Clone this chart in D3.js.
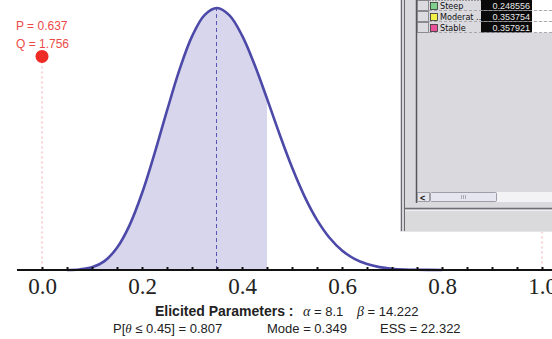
<!DOCTYPE html>
<html><head><meta charset="utf-8">
<script src="https://cdn.jsdelivr.net/npm/d3@7"></script>
<style>
html,body{margin:0;padding:0;background:#fff;overflow:hidden;}
svg{display:block;}
</style></head>
<body>
<script>
// ---- data ----
const thetaVals = [0.0,0.05,0.075,0.1,0.125,0.15,0.175,0.2,0.225,0.25,0.275,0.3,0.325,0.35,0.375,0.4,0.425,0.45,0.475,0.5,0.525,0.55,0.575,0.6,0.625,0.65,0.675,0.7,0.725,0.75,0.8,1.0];
const densityVals = [0,0.001,0.008,0.041,0.136,0.339,0.682,1.171,1.777,2.433,3.058,3.566,3.892,4.0,3.887,3.582,3.138,2.616,2.076,1.568,1.125,0.766,0.493,0.299,0.170,0.090,0.044,0.020,0.008,0.003,0,0];
const shadeLimit = 0.45;
const modeValue = 0.349;
const modeDensity = 4.0;
const majorTicks = [0.0,0.2,0.4,0.6,0.8,1.0];
const minorTicks = d3.range(0,21).map(i=>i*0.05);
const handleX = [0.0, 1.0];
const handleY = [3.26, 3.26];
const handleLabels = ["P = 0.637","Q = 1.756"];
const paramLine1 = {title:"Elicited Parameters :", alpha:"8.1", beta:"14.222"};
const paramLine2 = {prob:"0.45", probVal:"0.807", mode:"0.349", ess:"22.322"};
const rowLabels = ["Steep","Moderat ...","Stable"];
const rowValues = ["0.248556","0.353754","0.357921"];
const rowColors = ["#7fcf8f","#f4f04a","#e8509a"];

const W=552,H=339;
const svg=d3.select("body").append("svg").attr("width",W).attr("height",H);
const x=d3.scaleLinear().domain([0,1]).range([42,542]);
const y=d3.scaleLinear().domain([0,4.0]).range([270,8]);
const pts=thetaVals.map((t,i)=>({t,d:densityVals[i]}));

// shaded area up to 0.45
const shadePts=pts.filter(p=>p.t<=shadeLimit);
svg.append("path").datum(shadePts)
  .attr("d",d3.area().x(p=>x(p.t)).y0(y(0)).y1(p=>y(p.d)).curve(d3.curveCatmullRom.alpha(0.5)))
  .attr("fill","#d7d6ec");

// guide dashed lines for handles
handleX.forEach((hx,i)=>{
  svg.append("line").attr("x1",x(hx)).attr("x2",x(hx)).attr("y1",y(handleY[i])).attr("y2",y(0))
    .attr("stroke","#f2a6b0").attr("stroke-width",1).attr("stroke-dasharray","2,3");
});

// mode line
svg.append("line").attr("x1",x(modeValue)).attr("x2",x(modeValue)).attr("y1",y(0)).attr("y2",y(modeDensity))
  .attr("stroke","#5a57b4").attr("stroke-width",1).attr("stroke-dasharray","4,3");

// density curve
svg.append("path").datum(pts.filter(p=>p.t>=0.05&&p.t<=0.8))
  .attr("d",d3.line().x(p=>x(p.t)).y(p=>y(p.d)).curve(d3.curveCatmullRom.alpha(0.5)))
  .attr("fill","none").attr("stroke","#4c49a8").attr("stroke-width",2.6);

// axis
svg.append("line").attr("x1",17).attr("x2",W).attr("y1",y(0)).attr("y2",y(0))
  .attr("stroke","#111").attr("stroke-width",2);
const gTop=svg.append("g").attr("transform",`translate(0,${y(0)})`)
  .call(d3.axisTop(x).tickValues(minorTicks).tickSize(3).tickFormat(""));
gTop.select(".domain").remove();
gTop.selectAll(".tick line").attr("stroke","#111").attr("stroke-width",2);
const gBot=svg.append("g").attr("transform",`translate(0,${y(0)})`)
  .call(d3.axisBottom(x).tickValues(majorTicks).tickSize(0).tickPadding(8).tickFormat(d3.format(".1f")));
gBot.select(".domain").remove();
gBot.selectAll(".tick text").attr("font-family","'Liberation Serif','Times New Roman',serif")
  .attr("font-size",23).attr("fill","#222");

// handle point and labels
svg.append("circle").attr("cx",x(handleX[0])).attr("cy",y(handleY[0])).attr("r",6.5).attr("fill","#ee2b25");
handleLabels.forEach((t,i)=>{
  svg.append("text").attr("x",16).attr("y",30+i*18).text(t)
    .attr("font-family","'Liberation Sans',Arial,sans-serif").attr("font-size",12).attr("fill","#ec4a48");
});

// parameter text
const ff="'Liberation Sans',Arial,sans-serif";
const t1=svg.append("text").attr("y",316).attr("font-family",ff).attr("font-size",13).attr("fill","#222");
t1.append("tspan").attr("x",155).attr("font-weight","bold").attr("font-size",14).text(paramLine1.title);
t1.append("tspan").attr("x",303).attr("font-style","italic").attr("font-family","'Liberation Serif',serif").attr("font-size",14).text("α");
t1.append("tspan").text(" = "+paramLine1.alpha);
t1.append("tspan").attr("x",357).attr("font-style","italic").attr("font-family","'Liberation Serif',serif").attr("font-size",14).text("β");
t1.append("tspan").text(" = "+paramLine1.beta);
const t2=svg.append("text").attr("y",333).attr("font-family",ff).attr("font-size",13).attr("fill","#222");
t2.append("tspan").attr("x",113).text("P[");
t2.append("tspan").attr("font-style","italic").attr("font-family","'Liberation Serif',serif").text("θ");
t2.append("tspan").text(" ≤ "+paramLine2.prob+"] = "+paramLine2.probVal);
t2.append("tspan").attr("x",267).text("Mode = "+paramLine2.mode);
t2.append("tspan").attr("x",380).text("ESS = "+paramLine2.ess);

// ---- overlapping dialog panel ----
const p=svg.append("g");
p.append("rect").attr("x",400).attr("y",0).attr("width",W-400).attr("height",232).attr("fill","#d6d6da");
p.append("rect").attr("x",405).attr("y",0).attr("width",W-405).attr("height",232).attr("fill","#dadadd");
[401.5,404.5].forEach(xx=>p.append("line").attr("x1",xx).attr("x2",xx).attr("y1",0).attr("y2",232).attr("stroke","#6a6a70").attr("stroke-width",1));
p.append("line").attr("x1",400).attr("x2",W).attr("y1",231.5).attr("y2",231.5).attr("stroke","#e6e6e8");
// list area
p.append("rect").attr("x",416).attr("y",0).attr("width",W-416).attr("height",203).attr("fill","#d9d9de");
p.append("line").attr("x1",416.5).attr("x2",416.5).attr("y1",0).attr("y2",203).attr("stroke","#55555c").attr("stroke-width",1.5);
// bottom separators
p.append("line").attr("x1",405).attr("x2",W).attr("y1",208.5).attr("y2",208.5).attr("stroke","#6d6d73").attr("stroke-width",1.5);
p.append("line").attr("x1",405).attr("x2",W).attr("y1",210.5).attr("y2",210.5).attr("stroke","#f0f0f2").attr("stroke-width",1);
// rows
const rowH=11, row0=0;
p.append("line").attr("x1",417).attr("x2",W).attr("y1",0.5).attr("y2",0.5).attr("stroke","#999").attr("stroke-dasharray","2,1");
rowLabels.forEach((lab,i)=>{
  const ry=row0+i*rowH;
  p.append("rect").attr("x",417.5).attr("y",ry+0.5).attr("width",11).attr("height",rowH-1).attr("fill","#dcdce0").attr("stroke","#77777d").attr("stroke-width",0.8);
  p.append("rect").attr("x",430.5).attr("y",ry+2.5).attr("width",7).attr("height",7).attr("fill",rowColors[i]).attr("stroke","#333").attr("stroke-width",0.8);
  p.append("text").attr("x",440).attr("y",ry+9).text(lab).attr("font-family","'DejaVu Sans Condensed','Liberation Sans Narrow','Liberation Sans',sans-serif").attr("font-size",9).attr("fill","#111");
  p.append("rect").attr("x",481).attr("y",ry).attr("width",51).attr("height",rowH-0.5).attr("fill","#0a0a0a");
  p.append("text").attr("x",530).attr("y",ry+8.8).attr("text-anchor","end").text(rowValues[i]).attr("font-family","'Liberation Sans Narrow','Liberation Sans',sans-serif").attr("font-size",9).attr("fill","#e8e8e8");
  p.append("rect").attr("x",532).attr("y",ry).attr("width",W-532).attr("height",rowH-0.5).attr("fill","#ffffff");
  p.append("line").attr("x1",429).attr("x2",W).attr("y1",ry+rowH-0.5).attr("y2",ry+rowH-0.5).attr("stroke","#9a9aa0").attr("stroke-width",0.8).attr("stroke-dasharray","3,2");
});
// scrollbar
p.append("rect").attr("x",417).attr("y",192).attr("width",W-417).attr("height",10).attr("fill","#f3f3f5");
p.append("rect").attr("x",417.5).attr("y",192.5).attr("width",12).attr("height",9).attr("fill","#e4e4ea").attr("stroke","#8a8a92").attr("stroke-width",0.8);
p.append("text").attr("x",420).attr("y",200.5).text("<").attr("font-family","'Liberation Sans',sans-serif").attr("font-weight","bold").attr("font-size",9).attr("fill","#111");
p.append("rect").attr("x",430.5).attr("y",192.5).attr("width",66).attr("height",9).attr("fill","#e6e6ee").attr("stroke","#8a8a96").attr("stroke-width",0.8).attr("rx",1);
[461,463,465].forEach(gx=>p.append("line").attr("x1",gx+0.5).attr("x2",gx+0.5).attr("y1",195).attr("y2",199).attr("stroke","#9a9aa6").attr("stroke-width",0.8));
</script>
</body></html>
